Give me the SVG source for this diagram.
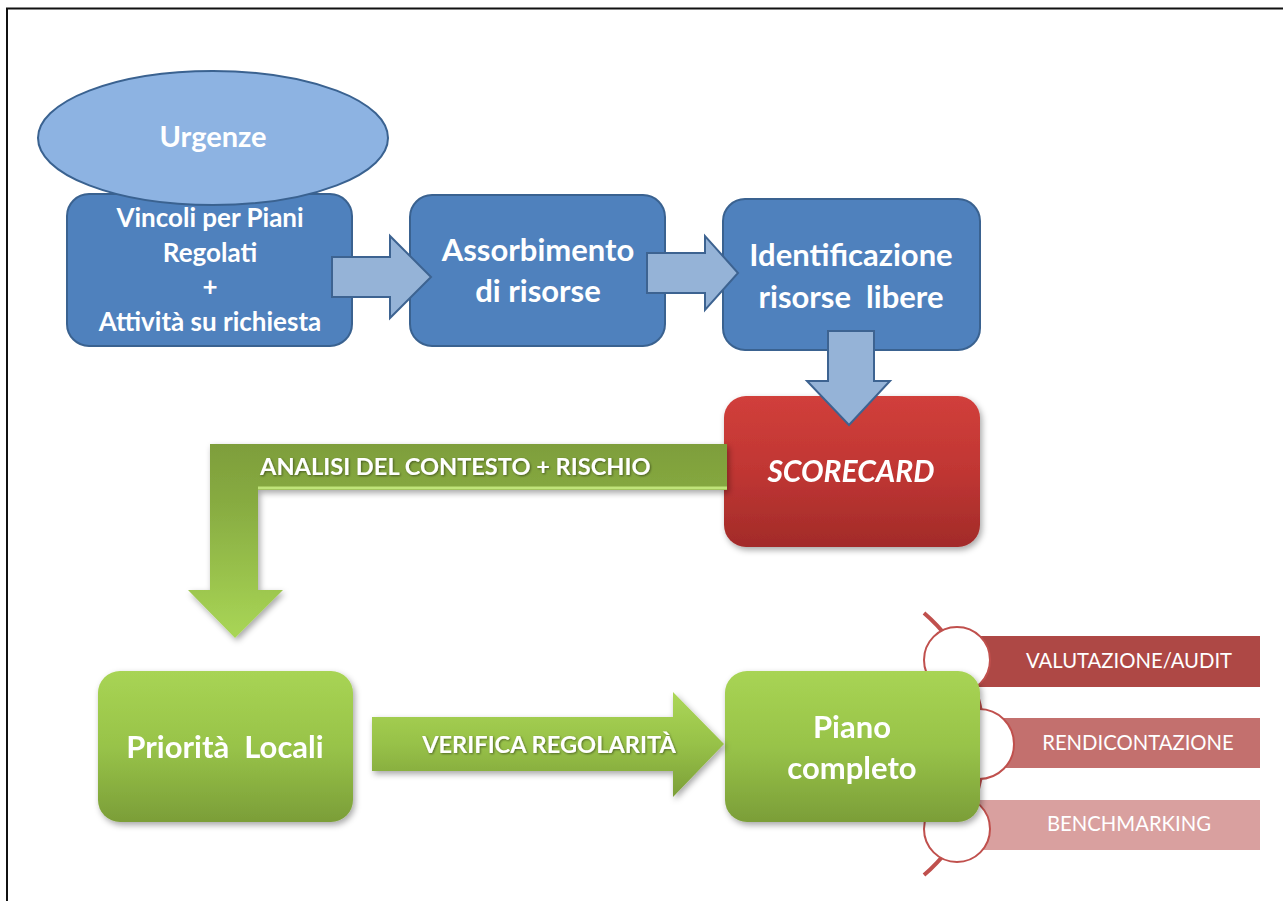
<svg xmlns="http://www.w3.org/2000/svg" width="1283" height="901" viewBox="0 0 1283 901">
  <defs>
    <style>
      .blue { fill: #4f81bd; stroke: #3a6290; stroke-width: 2; }
      .barrow { fill: #95b3d7; stroke: #3d6391; stroke-width: 2; }
      .t { font-family: Lato, "Open Sans", sans-serif; font-weight: bold; fill: #ffffff; text-anchor: middle; white-space: pre; }
      .tb { font-size: 26px; }
      .tl { font-size: 31px; }
      .ta { font-family: Lato, "Open Sans", sans-serif; font-weight: bold; fill: #ffffff; font-size: 23.6px; }
      .lt { font-family: Lato, "Open Sans", sans-serif; fill: #ffffff; font-size: 20.3px; text-anchor: middle; }
      .ring { fill: #ffffff; stroke: #c0504d; stroke-width: 2; }
    </style>
    <linearGradient id="gBox" x1="0" y1="0" x2="0" y2="1">
      <stop offset="0" stop-color="#a8d454"/>
      <stop offset="0.5" stop-color="#98c349"/>
      <stop offset="1" stop-color="#7b9e38"/>
    </linearGradient>
    <linearGradient id="rBox" x1="0" y1="0" x2="0" y2="1">
      <stop offset="0" stop-color="#d13f3b"/>
      <stop offset="0.5" stop-color="#c03633"/>
      <stop offset="1" stop-color="#a22b29"/>
    </linearGradient>
    <linearGradient id="gL" gradientUnits="userSpaceOnUse" x1="0" y1="444" x2="0" y2="638">
      <stop offset="0" stop-color="#7e9e3b"/>
      <stop offset="0.3" stop-color="#87ab41"/>
      <stop offset="1" stop-color="#a9d656"/>
    </linearGradient>
    <linearGradient id="gV" x1="0" y1="0" x2="0" y2="1">
      <stop offset="0" stop-color="#acd758"/>
      <stop offset="0.5" stop-color="#97c148"/>
      <stop offset="1" stop-color="#7c9f38"/>
    </linearGradient>
    <filter id="sh" x="-10%" y="-10%" width="125%" height="130%">
      <feDropShadow dx="2" dy="3" stdDeviation="3" flood-color="#000" flood-opacity="0.35"/>
    </filter>
    <filter id="ts" x="-5%" y="-20%" width="110%" height="140%">
      <feDropShadow dx="1" dy="1" stdDeviation="0.8" flood-color="#000" flood-opacity="0.45"/>
    </filter>
  </defs>

  <rect width="1283" height="901" fill="#ffffff"/>
  <!-- page frame -->
  <path d="M7,901 V8.5 H1283" fill="none" stroke="#111" stroke-width="2"/>

  <!-- top row -->
  <g id="vincoli">
    <rect class="blue" x="67" y="194" width="285" height="152" rx="22"/>
    <text class="t tb" x="210" y="227">Vincoli per Piani</text>
    <text class="t tb" x="210" y="262">Regolati</text>
    <text class="t tb" x="210" y="296">+</text>
    <text class="t tb" x="210" y="331">Attività su richiesta</text>
  </g>
  <g id="urgenze">
    <ellipse cx="213" cy="138" rx="175" ry="67" fill="#8db3e2" stroke="#3a6290" stroke-width="2"/>
    <text class="t" x="213" y="147" font-size="29">Urgenze</text>
  </g>
  <g id="assorbimento">
    <rect class="blue" x="410" y="195" width="255" height="151" rx="22"/>
    <text class="t tl" x="538" y="261">Assorbimento</text>
    <text class="t tl" x="538" y="302">di risorse</text>
  </g>
  <g id="identificazione">
    <rect class="blue" x="723" y="199" width="257" height="151" rx="22"/>
    <text class="t tl" x="851" y="266">Identificazione</text>
    <text class="t tl" x="851" y="308">risorse  libere</text>
  </g>

  <g id="scorecard" filter="url(#sh)">
    <rect x="724" y="396" width="256" height="151" rx="22" fill="url(#rBox)"/>
    <text class="t" x="851" y="482" font-size="30" font-style="italic">SCORECARD</text>
  </g>

  <!-- bottom row -->
  <g id="priorita" filter="url(#sh)">
    <rect x="98" y="671" width="255" height="151" rx="22" fill="url(#gBox)"/>
    <text class="t tl" x="225" y="758">Priorità  Locali</text>
  </g>

  <!-- outcome list along an arc -->
  <g id="esiti">
    <path d="M924,613 A173,173 0 0 1 924,875" fill="none" stroke="#c0504d" stroke-width="4"/>
    <rect x="978" y="636" width="282" height="51" fill="#ae4845"/>
    <rect x="998" y="718" width="262" height="50" fill="#c3706e"/>
    <rect x="978" y="800" width="282" height="50" fill="#d9a09f"/>
    <circle class="ring" cx="957" cy="660" r="33"/>
    <circle class="ring" cx="979" cy="744" r="35"/>
    <circle class="ring" cx="957" cy="829" r="33"/>
    <text class="lt" x="1129" y="668">VALUTAZIONE/AUDIT</text>
    <text class="lt" x="1138" y="750">RENDICONTAZIONE</text>
    <text class="lt" x="1129" y="831">BENCHMARKING</text>
  </g>

  <g id="piano" filter="url(#sh)">
    <rect x="725" y="671" width="255" height="151" rx="22" fill="url(#gBox)"/>
    <text class="t tl" x="852" y="738">Piano</text>
    <text class="t tl" x="852" y="779">completo</text>
  </g>

  <!-- connectors -->
  <g id="connectors">
    <path class="barrow" d="M332,257 H390 V236 L431,277 L390,318 V297 H332 Z"/>
    <path class="barrow" d="M647,253 H705 V236 L738,273 L705,310 V293 H647 Z"/>
    <path class="barrow" d="M828,331 H874 V381 H890 L849,425 L807,381 H828 Z"/>

    <g filter="url(#sh)">
      <path d="M727,444 H210 V590 H188 L235,638 L283,590 H258 V490 H727 Z" fill="url(#gL)"/>
      <path d="M258,488 H727" stroke="#bfe47a" stroke-width="3"/>
    </g>
    <text class="ta" x="260" y="475" filter="url(#ts)">ANALISI DEL CONTESTO + RISCHIO</text>

    <g filter="url(#sh)">
      <path d="M372,717 H673 V692 L724,744 L673,797 V771 H372 Z" fill="url(#gV)"/>
    </g>
    <text class="ta" x="549" y="753" text-anchor="middle" filter="url(#ts)">VERIFICA REGOLARITÀ</text>
  </g>
</svg>
